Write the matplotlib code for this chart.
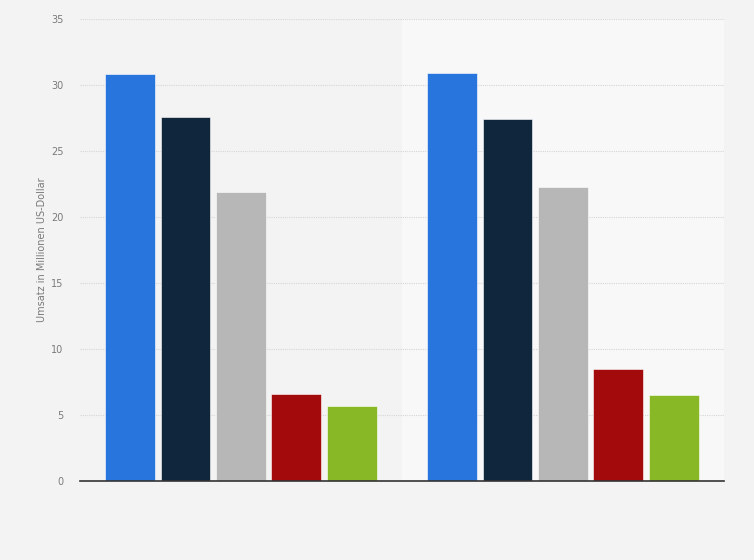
import numpy as np
import matplotlib.pyplot as plt

# values (Umsatz in Mio. US-Dollar), two groups, five series
groups = ["Gruppe 1", "Gruppe 2"]
series_names = ["Serie 1", "Serie 2", "Serie 3", "Serie 4", "Serie 5"]
series_values = [
    [30.8, 30.9],
    [27.6, 27.4],
    [21.9, 22.3],
    [6.6, 8.5],
    [5.7, 6.5],
]
colors = ["#2876dd", "#10263d", "#b7b7b7", "#a20a0b", "#88b825"]
y_ticks = [0, 5, 10, 15, 20, 25, 30, 35]

fig = plt.figure(figsize=(7.54, 5.6), dpi=100, facecolor="#f3f3f3")
ax = fig.add_axes([0.106, 0.141, 0.854, 0.825])
ax.set_facecolor("#f3f3f3")

x = np.arange(len(groups))
step = 0.172
width = 0.155

# lighter band behind the second group
ax.axvspan(0.5, 1.5, color="#f8f8f8", zorder=0)

for i, (name, vals) in enumerate(zip(series_names, series_values)):
    ax.bar(x + (i - 2) * step, vals, width=width, color=colors[i],
           edgecolor="white", linewidth=0.4, label=name, zorder=3)

ax.set_xlim(-0.5, 1.5)
ax.set_ylim(0, 35)
ax.set_yticks(y_ticks)
ax.set_yticklabels([str(t) for t in y_ticks], fontsize=7, color="#7a7a7a")
ax.set_xticks([])

ax.grid(axis="y", linestyle=(0, (1, 1)), color="#d6d6d6", linewidth=0.8, zorder=1)
for s in ["top", "right", "left"]:
    ax.spines[s].set_visible(False)
ax.spines["bottom"].set_color("#333333")
ax.spines["bottom"].set_linewidth(1.2)
ax.spines["bottom"].set_zorder(4)
ax.tick_params(axis="y", length=0, pad=12)

ax.set_ylabel("Umsatz in Millionen US-Dollar", fontsize=7, color="#7a7a7a", labelpad=3)

fig.savefig("out.png", dpi=100, facecolor=fig.get_facecolor())
